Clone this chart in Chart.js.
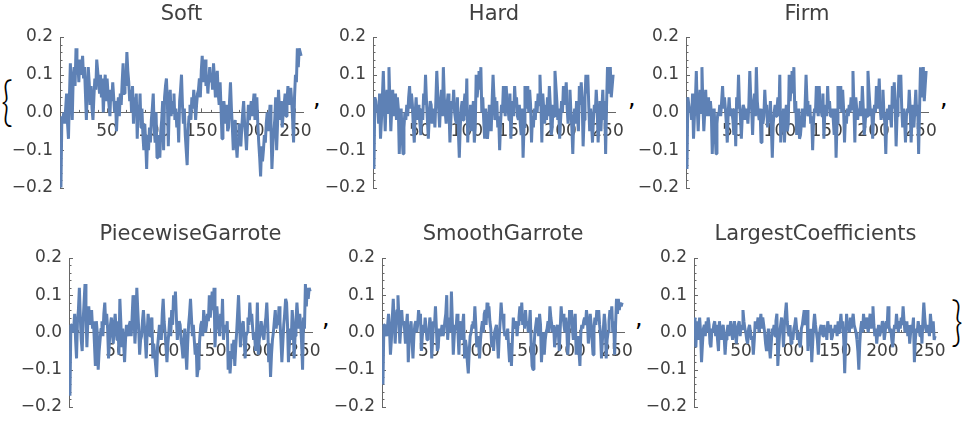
<!DOCTYPE html>
<html>
<head>
<meta charset="utf-8">
<script src="https://cdn.jsdelivr.net/npm/chart.js@4.4.0/dist/chart.umd.min.js"></script>
<style>
body { margin: 0; background: #fff; width: 962px; height: 424px; position: relative; overflow: hidden; }
canvas { position: absolute; }
.sym { position: absolute; line-height: 1; color: #000; }
.brace { font-family: 'Lato', sans-serif; font-weight: 300; font-size: 54px; transform: scaleX(0.75); transform-origin: left top; }
.comma { font-family: 'DejaVu Sans', sans-serif; font-size: 24px; }
</style>
</head>
<body>
<div class="sym brace" style="left:1px;top:73px;">{</div>
<div class="sym comma" style="left:313px;top:86px;">,</div>
<div class="sym comma" style="left:628px;top:86px;">,</div>
<div class="sym comma" style="left:940px;top:86px;">,</div>
<div class="sym comma" style="left:322px;top:306px;">,</div>
<div class="sym comma" style="left:635px;top:306px;">,</div>
<div class="sym brace" style="left:951px;top:293px;">}</div>
<script>
const titles = ['Soft', 'Hard', 'Firm', 'PiecewiseGarrote', 'SmoothGarrote', 'LargestCoefficients'];
const xTicks = [50, 100, 150, 200, 250];
const yTicks = [-0.2, -0.1, 0, 0.1, 0.2];

const soft = [
-0.20,-0.01,-0.02,0.00,-0.03,0.01,0.05,-0.03,-0.07,0.04,0.13,0.06,-0.02,0.09,0.12,0.07,
0.17,0.10,0.13,0.08,0.14,0.10,0.12,0.15,0.09,0.12,0.05,-0.02,0.06,0.12,0.08,0.02,
0.07,0.01,-0.02,0.04,0.09,0.06,0.14,0.11,0.08,0.05,0.10,0.04,0.09,0.00,0.06,0.10,
0.03,0.09,0.05,0.02,-0.01,0.06,0.03,0.08,0.04,0.00,0.03,-0.05,0.01,0.04,-0.01,0.05,
0.02,0.08,0.13,0.05,0.10,0.07,0.16,0.11,0.08,0.03,0.06,0.00,0.07,-0.03,0.04,0.01,
0.05,-0.07,0.02,-0.02,0.05,-0.04,0.01,-0.06,-0.10,-0.03,-0.08,-0.15,-0.06,-0.10,-0.04,-0.08,
-0.02,0.01,0.05,-0.04,-0.08,0.00,-0.12,-0.06,-0.09,-0.12,-0.05,-0.02,0.03,-0.10,0.04,0.07,
0.09,0.03,-0.09,0.02,0.06,-0.01,0.03,0.00,0.05,-0.02,0.01,-0.04,0.00,-0.08,0.03,0.06,
0.10,0.02,-0.03,0.01,-0.06,-0.10,-0.14,-0.05,-0.01,0.02,-0.02,0.04,0.01,0.06,0.03,-0.02,
0.02,0.05,0.06,0.09,0.04,0.11,0.15,0.08,0.12,0.14,0.07,0.10,0.05,0.09,0.12,0.08,
0.10,0.06,0.13,0.09,0.04,0.08,0.11,0.05,0.02,0.08,0.01,-0.07,-0.02,0.03,0.00,-0.03,
0.02,-0.05,-0.04,0.03,0.08,0.01,-0.04,-0.10,-0.06,-0.02,-0.08,-0.12,-0.07,-0.03,-0.05,-0.09,
-0.04,0.00,0.03,-0.03,-0.06,-0.10,-0.04,0.02,-0.02,0.00,0.03,-0.01,0.02,0.05,-0.02,0.01,
0.04,-0.03,-0.08,-0.12,-0.17,-0.09,-0.13,-0.10,-0.06,-0.08,-0.03,0.00,-0.05,-0.02,0.02,-0.04,
-0.15,-0.09,-0.05,-0.02,0.04,-0.10,-0.03,0.06,0.01,-0.02,0.03,-0.04,0.00,0.02,0.05,-0.01,
0.03,0.07,0.02,0.05,0.065,0.03,-0.02,-0.08,0.04,0.10,0.08,0.17,0.12,0.17,0.16,0.15
];

const hard = [
-0.15,0.04,0.03,0.00,0.02,-0.03,0.05,-0.07,-0.02,0.04,0.11,0.02,-0.05,0.03,0.06,0.00,
0.12,0.03,-0.05,0.01,0.06,-0.01,0.02,0.05,-0.02,0.04,0.01,-0.11,-0.03,0.01,-0.06,-0.11,
-0.04,0.00,-0.02,0.02,-0.01,0.04,0.07,0.01,0.05,0.02,-0.04,-0.08,0.00,0.04,-0.02,0.02,
0.00,-0.03,-0.06,0.01,-0.02,0.05,0.02,0.10,0.03,-0.02,-0.07,-0.01,0.03,0.02,-0.03,0.01,
0.00,-0.04,0.03,0.11,0.05,0.01,-0.04,0.02,0.06,-0.01,0.12,0.04,0.00,-0.03,0.02,0.05,
0.01,-0.08,-0.02,0.03,0.01,0.06,0.00,-0.02,-0.03,0.04,-0.05,-0.12,-0.04,0.01,0.03,-0.02,
0.02,0.05,-0.01,0.09,-0.08,0.00,-0.03,0.02,-0.05,-0.01,0.03,-0.08,-0.04,0.10,0.04,0.07,
0.11,0.06,0.12,0.00,0.04,-0.02,-0.07,0.01,-0.03,-0.07,-0.04,0.02,-0.01,-0.05,0.03,0.10,
0.04,-0.02,0.00,0.03,-0.04,-0.01,-0.10,-0.03,0.02,0.00,0.07,0.02,-0.01,0.07,0.03,0.01,
-0.02,0.05,-0.07,0.00,0.03,-0.01,0.07,0.02,0.04,-0.01,-0.02,0.02,-0.03,-0.06,0.01,-0.12,
-0.04,0.07,0.01,0.03,0.07,0.00,0.06,0.02,-0.08,-0.01,-0.04,0.01,-0.02,0.03,0.00,0.05,
0.02,0.10,0.03,-0.08,0.05,0.01,-0.03,0.02,-0.02,0.04,-0.01,0.07,0.02,-0.06,-0.04,0.02,
-0.01,0.11,0.07,0.03,-0.02,0.01,-0.07,-0.02,0.03,0.00,0.07,0.02,0.04,0.08,0.01,-0.03,
0.02,0.06,0.00,-0.04,-0.11,-0.02,0.01,-0.03,0.03,-0.01,-0.05,0.07,0.02,0.08,0.03,-0.09,
-0.02,0.04,0.10,0.05,0.10,0.02,-0.05,0.01,-0.03,-0.08,-0.02,0.02,0.00,0.06,0.01,-0.08,
-0.02,0.03,-0.05,0.01,0.06,-0.02,0.03,-0.11,0.02,0.12,0.05,0.08,0.12,0.04,0.07,0.10
];

const firm = [
-0.15,0.04,0.02,0.00,0.01,-0.02,0.05,-0.07,-0.01,0.03,0.11,0.01,-0.05,0.02,0.06,0.00,
0.12,0.02,-0.05,0.00,0.06,-0.01,0.01,0.04,-0.01,0.03,0.00,-0.11,-0.02,0.01,-0.05,-0.11,
-0.03,0.00,-0.01,0.02,-0.01,0.03,0.07,0.01,0.04,0.01,-0.03,-0.08,0.00,0.04,-0.01,0.01,
0.00,-0.02,-0.06,0.01,-0.09,0.04,0.01,0.10,0.02,-0.01,-0.07,-0.01,0.02,0.01,-0.02,0.01,
0.00,-0.03,0.02,0.11,0.04,0.01,-0.06,0.02,0.05,-0.01,0.12,0.03,0.00,-0.02,0.01,-0.08,
0.01,-0.03,-0.01,0.06,0.01,0.02,-0.04,-0.01,-0.02,0.03,-0.04,-0.12,-0.03,0.00,0.02,-0.01,
0.01,0.04,-0.01,0.10,-0.08,0.00,-0.02,0.01,-0.08,-0.01,0.02,-0.05,-0.03,0.10,0.03,0.07,
0.11,0.05,0.12,0.00,0.03,-0.06,-0.01,0.01,-0.07,-0.06,-0.03,0.01,-0.01,-0.04,0.02,0.10,
0.03,-0.01,0.00,0.02,-0.03,-0.01,-0.10,-0.02,0.01,0.00,0.07,0.01,-0.01,0.07,0.02,0.01,
-0.01,0.05,-0.07,0.00,0.02,-0.01,0.07,0.01,0.03,-0.01,-0.01,0.01,-0.02,-0.06,0.01,-0.12,
-0.03,0.07,0.01,0.02,0.07,0.00,0.06,0.01,-0.08,-0.01,-0.03,0.01,-0.01,0.02,0.00,0.04,
0.01,0.11,0.02,-0.08,0.04,0.01,-0.02,0.01,-0.01,0.03,-0.01,0.07,0.01,-0.06,-0.03,0.01,
-0.01,0.11,0.06,0.02,-0.01,0.01,-0.07,-0.01,0.02,0.00,0.07,0.01,0.03,0.09,0.01,-0.02,
0.01,0.06,0.00,-0.03,-0.11,-0.01,0.01,-0.02,0.02,-0.01,-0.04,0.07,0.01,0.08,0.02,-0.09,
-0.01,0.03,0.10,0.04,0.10,0.01,-0.04,0.01,-0.02,-0.08,-0.01,0.01,0.00,0.06,0.01,-0.08,
-0.01,0.02,-0.04,0.01,0.06,-0.01,0.02,-0.11,0.01,0.12,0.04,0.08,0.12,0.03,0.07,0.11
];

const piecewiseGarrote = [
-0.17,0.02,0.02,0.00,0.01,0.05,-0.02,-0.07,0.03,0.06,0.12,0.04,-0.02,-0.05,0.03,0.08,
0.13,0.05,-0.04,0.03,0.07,0.02,0.05,0.06,0.01,0.03,-0.03,-0.09,0.03,0.00,-0.10,-0.05,
-0.02,0.01,0.03,-0.01,0.05,0.08,0.02,0.05,0.01,-0.07,-0.02,0.02,0.04,0.00,-0.03,0.02,
0.05,0.01,-0.02,0.03,-0.06,0.09,0.03,-0.04,0.01,-0.03,-0.08,-0.02,0.02,0.00,-0.01,0.02,
0.03,-0.01,0.04,0.10,0.05,-0.03,0.02,0.12,0.06,0.01,-0.06,-0.02,-0.01,0.03,0.06,0.02,
-0.02,-0.07,0.00,0.05,0.02,-0.01,0.03,0.04,-0.07,-0.03,-0.06,-0.09,-0.12,-0.04,-0.01,0.02,
0.00,-0.02,0.05,0.09,0.03,0.00,-0.04,-0.08,-0.03,0.00,0.04,-0.01,0.06,0.02,0.10,0.06,
0.11,0.04,-0.02,0.01,0.03,0.02,-0.02,-0.04,-0.07,-0.02,0.01,-0.05,-0.10,-0.03,0.02,0.05,
0.09,0.04,-0.01,0.02,-0.02,-0.06,-0.03,-0.12,-0.10,-0.05,-0.01,0.02,0.03,-0.01,0.06,0.03,
0.00,0.02,0.05,0.03,0.10,0.04,0.07,0.11,0.06,0.12,-0.04,0.02,0.07,0.03,0.01,-0.01,
0.05,0.02,0.09,-0.02,0.01,0.02,0.00,0.03,-0.10,-0.05,-0.11,-0.07,-0.03,-0.05,-0.02,-0.09,
-0.04,0.00,0.05,0.10,0.03,-0.04,0.01,0.02,0.03,-0.02,-0.07,-0.01,0.00,0.04,0.02,0.08,
0.03,0.05,0.01,-0.02,0.00,-0.05,-0.01,0.08,-0.06,-0.02,0.00,0.03,0.01,-0.01,-0.02,0.02,
0.04,0.08,0.02,-0.08,-0.03,-0.12,-0.06,-0.02,0.00,0.03,0.06,0.01,0.04,0.02,0.07,0.03,
-0.02,-0.08,-0.03,0.02,0.05,0.09,0.08,0.02,-0.08,-0.03,0.01,-0.02,0.06,0.02,-0.07,-0.01,
0.03,0.08,0.04,0.01,0.05,0.02,-0.03,-0.10,0.04,0.01,0.13,0.07,0.12,0.09,0.12,0.11
];

const smoothGarrote = [
-0.14,0.02,0.02,0.00,-0.01,0.02,0.05,0.01,-0.06,-0.02,0.04,0.09,0.03,-0.03,0.02,0.06,
0.10,0.04,-0.03,0.01,0.06,0.02,0.03,0.01,-0.03,0.02,0.05,-0.08,-0.02,0.01,0.03,-0.02,
-0.07,-0.01,0.02,0.03,0.00,0.02,0.06,0.03,0.05,-0.05,-0.01,0.02,0.00,0.04,0.01,-0.02,
0.01,0.00,0.04,0.02,-0.07,-0.02,0.03,0.02,0.07,0.01,-0.05,-0.04,0.01,-0.01,0.00,0.02,
-0.01,0.00,0.03,0.05,0.10,-0.02,0.02,0.04,0.00,0.11,0.03,-0.06,-0.01,0.02,0.01,0.05,
0.00,-0.06,0.03,0.01,-0.02,0.02,0.05,-0.07,-0.02,-0.04,-0.08,-0.11,-0.05,-0.01,0.00,0.02,
0.03,0.01,0.07,0.02,-0.04,-0.01,-0.03,-0.07,-0.02,0.01,0.03,0.00,0.05,0.06,0.02,0.08,
0.04,0.07,0.03,0.01,-0.04,-0.01,-0.05,0.00,0.01,0.02,-0.02,-0.07,-0.01,0.03,0.08,0.04,
0.05,0.01,-0.01,0.00,-0.02,0.01,-0.04,-0.08,-0.03,-0.09,-0.02,0.04,0.01,0.02,0.03,-0.01,
0.02,0.04,0.07,0.03,0.08,0.02,0.05,0.01,0.06,0.02,0.03,0.00,0.02,0.06,-0.03,-0.09,
-0.10,-0.04,0.00,0.02,0.04,0.01,-0.01,0.05,0.02,-0.08,-0.03,0.00,-0.06,-0.02,0.00,0.01,
0.03,0.00,0.07,0.04,0.02,0.00,0.02,-0.04,-0.01,0.01,0.02,0.00,-0.05,0.01,0.07,0.03,
0.05,0.02,0.00,0.04,0.01,-0.06,-0.02,0.06,0.03,0.06,0.01,-0.02,0.02,0.05,-0.06,-0.03,
-0.01,-0.05,-0.09,0.00,0.02,0.01,0.03,0.04,0.02,0.06,0.03,-0.03,0.00,0.05,0.02,-0.02,
-0.06,0.01,0.04,0.02,0.06,0.03,0.06,0.02,-0.01,-0.07,-0.02,0.01,0.05,0.02,-0.07,-0.02,
0.00,0.03,0.06,0.04,0.07,0.00,0.03,-0.06,0.02,0.09,0.05,0.09,0.06,0.08,0.07,0.08
];

const largestCoefficients = [
0.04,-0.04,0.03,-0.02,0.01,0.04,0.00,-0.08,-0.03,0.01,0.02,-0.01,0.03,0.00,0.04,0.02,
-0.03,-0.04,0.01,0.00,0.02,0.03,-0.01,0.02,-0.02,-0.05,0.03,0.00,-0.02,0.01,0.02,-0.01,
-0.06,-0.02,0.00,0.02,-0.01,0.01,0.03,0.00,-0.02,0.01,0.03,0.00,-0.03,0.01,0.02,0.03,
-0.01,0.02,0.01,0.06,0.03,0.01,0.00,-0.02,-0.03,0.01,0.02,0.00,-0.02,-0.01,-0.06,-0.02,
0.03,0.01,0.02,0.04,0.00,0.02,0.05,0.01,0.04,0.02,0.00,-0.03,-0.05,-0.02,0.01,-0.04,
-0.07,-0.03,0.01,0.00,0.02,-0.01,0.03,0.05,-0.09,-0.04,0.00,0.02,0.04,0.01,-0.04,0.02,
0.05,0.08,0.03,0.00,-0.01,0.02,-0.03,-0.01,-0.02,0.01,0.02,0.04,0.01,-0.02,0.00,-0.03,
-0.04,0.01,0.02,0.04,0.06,0.02,0.03,0.06,-0.05,0.00,-0.02,0.01,-0.08,-0.03,0.02,0.05,
0.02,0.00,-0.02,-0.06,-0.01,0.01,0.02,0.00,-0.01,0.02,0.00,0.01,-0.02,0.03,0.01,0.00,
0.02,-0.02,-0.01,0.01,0.00,0.02,0.01,-0.01,0.03,0.00,0.02,0.05,0.01,0.03,-0.02,-0.11,
-0.03,0.05,0.01,0.02,0.00,0.04,0.01,0.03,0.05,0.02,0.01,0.00,-0.02,-0.05,-0.10,-0.03,
0.01,0.03,0.00,0.05,0.02,0.01,0.04,0.02,0.00,0.03,0.05,0.01,0.03,0.07,0.02,-0.01,
0.01,-0.03,0.00,0.02,-0.01,0.00,0.01,0.03,0.02,-0.02,0.00,0.03,0.01,0.07,0.02,0.00,
0.01,-0.02,-0.04,0.00,0.02,0.01,0.05,0.02,0.00,0.03,0.01,0.04,0.02,0.07,0.03,0.00,
0.01,0.03,-0.01,0.02,-0.03,0.00,0.02,0.01,0.04,-0.08,-0.02,0.01,0.00,0.03,0.01,-0.01,
0.02,-0.03,0.03,0.08,0.04,0.01,0.00,0.02,0.01,-0.01,0.05,0.02,0.00,0.03,-0.02,-0.01
];

const series = [soft, hard, firm, piecewiseGarrote, smoothGarrote, largestCoefficients];

// plot boxes in page pixels: left, right, top, bottom of the plot area
const boxes = [
  {l: 60, r: 303, t: 37, b: 191, row: 0},
  {l: 373, r: 615, t: 37, b: 191, row: 0},
  {l: 686, r: 928, t: 37, b: 191, row: 0},
  {l: 69, r: 312, t: 258, b: 409, row: 1},
  {l: 382, r: 624, t: 258, b: 409, row: 1},
  {l: 694, r: 937, t: 258, b: 409, row: 1}
];
const rows = [{top: 0, h: 205, padTop: 2}, {top: 215, h: 209, padTop: 7}];

const axisColor = '#666666';
const textColor = '#404040';
const lineColor = '#5E81B5';
const yAxisW = 55;

// small inward ticks like the original axes
const innerTicks = {
  id: 'innerTicks',
  beforeDatasetsDraw(chart) {
    const ctx = chart.ctx;
    const xs = chart.scales.x, ys = chart.scales.y;
    const x0 = chart.chartArea.left;
    const y0 = ys.getPixelForValue(0);
    ctx.save();
    ctx.strokeStyle = axisColor;
    ctx.lineWidth = 1;
    ctx.beginPath();
    for (let k = -10; k <= 10; k++) {
      const py = Math.round(ys.getPixelForValue(k / 50)) + 0.5;
      const len = k % 5 === 0 ? 4 : 2.5;
      ctx.moveTo(x0, py);
      ctx.lineTo(x0 + len, py);
    }
    for (let k = 10; k <= 250; k += 10) {
      const px = Math.round(xs.getPixelForValue(k)) + 0.5;
      const len = k % 50 === 0 ? 4 : 2.5;
      ctx.moveTo(px, y0);
      ctx.lineTo(px, y0 - len);
    }
    ctx.stroke();
    ctx.restore();
  }
};

Chart.defaults.font.family = "'DejaVu Sans', sans-serif";
Chart.defaults.color = textColor;

series.forEach((vals, n) => {
  const b = boxes[n];
  const row = rows[b.row];
  const cl = b.l - yAxisW - 3;
  const cw = b.r + 30 - cl;
  const canvas = document.createElement('canvas');
  canvas.width = cw;
  canvas.height = row.h;
  canvas.style.left = cl + 'px';
  canvas.style.top = row.top + 'px';
  document.body.appendChild(canvas);

  const titleBottom = (b.t - row.top) - row.padTop - 21 * 1.2;
  const padBottom = row.top + row.h - b.b;

  new Chart(canvas, {
    type: 'line',
    data: {
      datasets: [{
        data: vals.map((v, i) => ({x: i + 1, y: v})),
        borderColor: lineColor,
        borderWidth: 3,
        borderJoinStyle: 'bevel',
        pointRadius: 0,
        tension: 0,
        fill: false
      }]
    },
    options: {
      responsive: false,
      animation: false,
      devicePixelRatio: 1,
      layout: {padding: {left: 3, right: 30, top: row.padTop, bottom: padBottom}},
      plugins: {
        legend: {display: false},
        tooltip: {enabled: false},
        title: {
          display: true,
          text: titles[n],
          fullSize: false,
          color: textColor,
          font: {size: 21, weight: 'normal'},
          padding: {top: 0, bottom: titleBottom}
        }
      },
      scales: {
        x: {
          type: 'linear',
          min: 0,
          max: 258,
          position: {y: 0},
          afterBuildTicks: s => { s.ticks = xTicks.map(v => ({value: v})); },
          grid: {display: true, drawOnChartArea: false, drawTicks: false},
          border: {display: true, color: axisColor, width: 1},
          ticks: {
            padding: 9,
            maxRotation: 0,
            autoSkip: false,
            color: textColor,
            font: {size: 17},
            callback: v => String(v)
          }
        },
        y: {
          type: 'linear',
          min: -0.2,
          max: 0.2,
          position: 'left',
          afterFit: s => { s.width = yAxisW; },
          afterBuildTicks: s => { s.ticks = yTicks.map(v => ({value: v})); },
          grid: {display: true, drawOnChartArea: false, drawTicks: false},
          border: {display: true, color: axisColor, width: 1},
          ticks: {
            padding: 7,
            autoSkip: false,
            color: textColor,
            font: {size: 17},
            callback: v => v.toFixed(1).replace('-', '\u2212')
          }
        }
      }
    },
    plugins: [innerTicks]
  });
});
</script>
</body>
</html>
